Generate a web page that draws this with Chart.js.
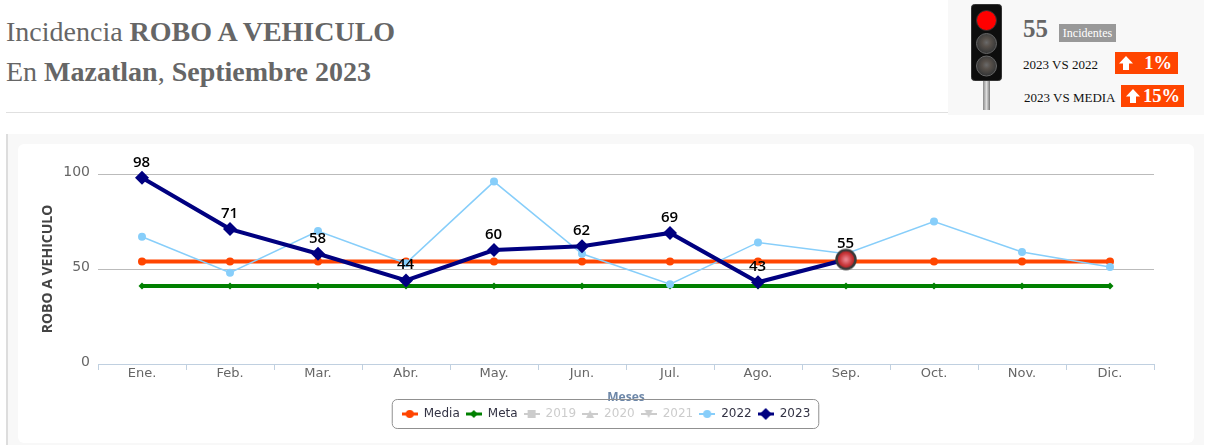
<!DOCTYPE html>
<html><head><meta charset="utf-8">
<script src="https://cdn.jsdelivr.net/npm/chart.js@4"></script>
<style>
html,body{margin:0;padding:0;background:#fff;width:1207px;height:445px;overflow:hidden;font-family:"Liberation Serif",serif}
.abs{position:absolute;white-space:nowrap}
.title{left:6px;font-size:28px;letter-spacing:0;color:#666;line-height:36px}
.badge{background:#ff4500;color:#fff;font-weight:bold;font-size:18.500px;height:22px;line-height:22px}
.lbl{font-size:13px;color:#111}
</style></head><body>
<div class="abs title" style="top:14px">Incidencia <b>ROBO A VEHICULO</b></div>
<div class="abs title" style="top:54px">En <b>Mazatlan</b>, <b>Septiembre 2023</b></div>
<div class="abs" style="left:6px;top:112px;width:942px;height:1px;background:#e0e0e0"></div>
<div class="abs" style="left:948px;top:0;width:256px;height:115px;background:#f8f8f8"></div>
<svg class="abs" style="left:965px;top:0" width="44" height="112" viewBox="0 0 44 112">
  <defs>
    <linearGradient id="pole" x1="0" x2="1" y1="0" y2="0"><stop offset="0" stop-color="#888"/><stop offset=".5" stop-color="#ddd"/><stop offset="1" stop-color="#777"/></linearGradient>
    <radialGradient id="off" cx=".5" cy=".45" r=".6"><stop offset="0" stop-color="#6a6a6a"/><stop offset=".35" stop-color="#57504a"/><stop offset=".8" stop-color="#3a3a3a"/><stop offset="1" stop-color="#222"/></radialGradient>
  </defs>
  <rect x="18" y="78" width="7" height="32" fill="url(#pole)"/>
  <rect x="6.500" y="4.500" width="30" height="76" rx="3" fill="#0d0d0d" stroke="#333"/>
  <circle cx="21.500" cy="20.500" r="10" fill="#f00" stroke="#333"/>
  <circle cx="21.500" cy="43.500" r="10" fill="url(#off)" stroke="#666"/>
  <circle cx="21.500" cy="66" r="10" fill="url(#off)" stroke="#666"/>
</svg>
<div class="abs" style="left:1023px;top:15px;font-size:25px;font-weight:bold;color:#666;line-height:28px">55</div>
<div class="abs" style="left:1059px;top:24px;width:57px;height:18px;line-height:18px;background:#999;color:#fff;font-size:12px;text-align:center">Incidentes</div>
<div class="abs lbl" style="left:1023px;top:57px">2023 VS 2022</div>
<div class="abs badge" style="left:1115px;top:52px;width:63px">
  <svg style="position:absolute;left:4px;top:4px" width="14" height="14" viewBox="0 0 14 14"><path d="M7 0L14 7.500H10V14H4V7.500H0Z" fill="#fff"/></svg>
  <span style="position:absolute;right:6px">1%</span></div>
<div class="abs lbl" style="left:1024px;top:90px">2023 VS MEDIA</div>
<div class="abs badge" style="left:1121px;top:85px;width:63px">
  <svg style="position:absolute;left:5px;top:4px" width="14" height="14" viewBox="0 0 14 14"><path d="M7 0L14 7.500H10V14H4V7.500H0Z" fill="#fff"/></svg>
  <span style="position:absolute;right:4px">15%</span></div>

<div class="abs" style="left:6px;top:134px;width:1198px;height:311px;background:#f8f8f8"></div>
<div class="abs" style="left:6px;top:134px;width:2px;height:311px;background:#ddd"></div>
<div class="abs" style="left:18px;top:144px;width:1176px;height:299px;background:#fff;border-radius:6px"></div>
<div class="abs" style="left:18px;top:144px;width:1176px;height:299px"><canvas id="c" width="1176" height="299"></canvas></div>

<script>
const categories = ["Ene.","Feb.","Mar.","Abr.","May.","Jun.","Jul.","Ago.","Sep.","Oct.","Nov.","Dic."];
const media = [54,54,54,54,54,54,54,54,54,54,54,54];
const meta = [41,41,41,41,41,41,41,41,41,41,41,41];
const y2019 = [];
const y2020 = [];
const y2021 = [];
const y2022 = [67,48,70,53,96,58,42,64,58,75,59,51];
const y2023 = [98,71,58,44,60,62,69,43,55,null,null,null];
const yTicks = [0,50,100];
const currentMonth = 8;

const FONT = '"DejaVu Sans", sans-serif';

function legendIcon(color, shape, lw, r){
  const c = document.createElement('canvas'); c.width = 16; c.height = 12;
  const g = c.getContext('2d');
  g.strokeStyle = color; g.fillStyle = color; g.lineWidth = lw;
  g.beginPath(); g.moveTo(0,6); g.lineTo(16,6); g.stroke();
  g.beginPath();
  if(shape==='circle') g.arc(8,6,r,0,7);
  if(shape==='diamond'){g.moveTo(8,6-r);g.lineTo(8+r,6);g.lineTo(8,6+r);g.lineTo(8-r,6);}
  if(shape==='square') g.rect(8-r,6-r,2*r,2*r);
  if(shape==='up'){g.moveTo(8,6-r);g.lineTo(8+r,6+r);g.lineTo(8-r,6+r);}
  if(shape==='down'){g.moveTo(8,6+r);g.lineTo(8+r,6-r);g.lineTo(8-r,6-r);}
  g.closePath(); g.fill();
  return c;
}
function hoverMarker(){
  const c = document.createElement('canvas'); c.width = 24; c.height = 24;
  const g = c.getContext('2d');
  const gr = g.createRadialGradient(12,12,1,12,12,10);
  gr.addColorStop(0,'#e8808a'); gr.addColorStop(.55,'#c8383c'); gr.addColorStop(1,'#a01818');
  g.fillStyle = gr; g.beginPath(); g.arc(12,12,9.500,0,7); g.fill();
  g.strokeStyle = '#3a3a3a'; g.lineWidth = 2.500; g.stroke();
  return c;
}
const hover = hoverMarker();
const GREY = '#cccccc';

const series = [
 {label:'Media', data:media, c:'#ff4500', lw:4, style:'circle', r:4, icon:legendIcon('#ff4500','circle',3,4)},
 {label:'Meta', data:meta, c:'#008000', lw:4, style:'rectRot', r:3.500, icon:legendIcon('#008000','diamond',3,4)},
 {label:'2019', data:y2019, c:GREY, lw:2, style:'rect', r:4, hidden:true, icon:legendIcon(GREY,'square',2,4)},
 {label:'2020', data:y2020, c:GREY, lw:2, style:'triangle', r:4, hidden:true, icon:legendIcon(GREY,'up',2,4)},
 {label:'2021', data:y2021, c:GREY, lw:2, style:'triangle', r:4, hidden:true, icon:legendIcon(GREY,'down',2,4)},
 {label:'2022', data:y2022, c:'#87cefa', lw:1.500, style:'circle', r:4, icon:legendIcon('#87cefa','circle',2,4)},
 {label:'2023', data:y2023, c:'#000080', lw:4, style:'rectRot', r:7, icon:legendIcon('#000080','diamond',3,6)},
];

const legendFrame = {
  id:'legendFrame',
  afterDraw(chart){
    const l = chart.legend; if(!l||!l.legendHitBoxes.length) return;
    const hb = l.legendHitBoxes;
    const x0 = hb[0].left-10, x1 = hb[hb.length-1].left+hb[hb.length-1].width+8;
    const y0 = hb[0].top-9, y1 = y0+29;
    const g = chart.ctx; g.save();
    g.strokeStyle='#909090'; g.lineWidth=1;
    g.beginPath(); g.roundRect(x0+.5,y0+.5,x1-x0,y1-y0,5); g.stroke();
    g.restore();
  }
};
const pointLabels = {
  id:'pointLabels',
  afterDatasetsDraw(chart){
    const idx = chart.data.datasets.length-1;
    const meta2 = chart.getDatasetMeta(idx), g = chart.ctx;
    g.save();
    g.font = '600 15px "Open Sans", sans-serif'; g.fillStyle='#000'; g.textAlign='center'; g.textBaseline='middle';
    meta2.data.forEach((p,i)=>{
      const v = chart.data.datasets[idx].data[i];
      if(v==null) return;
      g.fillText(String(v), p.x-0.5, p.y-15.5);
    });
    g.restore();
  }
};

new Chart(document.getElementById('c'),{
  type:'line',
  data:{labels:categories,datasets:series.map((s,i)=>({
    label:s.label,data:s.data,hidden:!!s.hidden,order:series.length-i,
    borderColor:s.c,backgroundColor:s.c,borderWidth:s.lw,
    tension:0,spanGaps:false,clip:false,
    pointRadius:s.label==='2023'?(c=>c.dataIndex===currentMonth?12:s.r):s.r,
    rotation:s.label==='2021'?180:0,
    pointStyle:s.label==='2023'?(c=>c.dataIndex===currentMonth?hover:s.style):s.style,
    pointBackgroundColor:s.c,pointBorderColor:s.c,pointBorderWidth:0
  }))},
  plugins:[legendFrame,pointLabels],
  options:{
    responsive:false,animation:false,
    events:[],
    layout:{padding:{top:30,right:40,left:40,bottom:13}},
    scales:{
      x:{
        offset:true,
        afterFit(a){a.height=38;},
        grid:{drawOnChartArea:false,drawTicks:true,tickLength:6,tickColor:'#c0d0e0',offset:true},
        border:{color:'#c0d0e0',width:1},
        ticks:{color:'#666',font:{family:FONT,size:13},padding:-4,maxRotation:0,autoSkip:false},
        title:{display:true,text:'Meses',color:'#6d87a8',font:{family:'"Open Sans",sans-serif',size:12,weight:'bold'},padding:{top:8,bottom:-3}},
      },
      y:{
        min:0,max:100,
        afterBuildTicks(a){a.ticks=yTicks.map(v=>({value:v}));},
        afterFit(a){a.width=40;},
        grid:{color:'#bbbbbb',drawTicks:false,lineWidth:1},
        border:{display:false},
        ticks:{color:'#666',font:{family:FONT,size:14},padding:8,labelOffset:-2},
        title:{display:true,text:'ROBO A VEHICULO',color:'#444',font:{family:'"Open Sans",sans-serif',size:14,weight:'bold'},padding:{top:-18,bottom:0}}
      }
    },
    plugins:{
      tooltip:{enabled:false},
      legend:{
        position:'bottom',
        onClick:null,
        labels:{
          usePointStyle:true,pointStyleWidth:16,boxHeight:12,padding:6,
          font:{family:FONT,size:12},color:'#333',
          generateLabels(chart){
            return series.map((s,i)=>({
              text:s.label,datasetIndex:i,hidden:false,
              fontColor:s.hidden?'#cccccc':'#333344',
              pointStyle:s.icon,lineWidth:0,strokeStyle:'transparent',fillStyle:'transparent'
            }));
          }
        }
      }
    }
  }
});
</script>
</body></html>
